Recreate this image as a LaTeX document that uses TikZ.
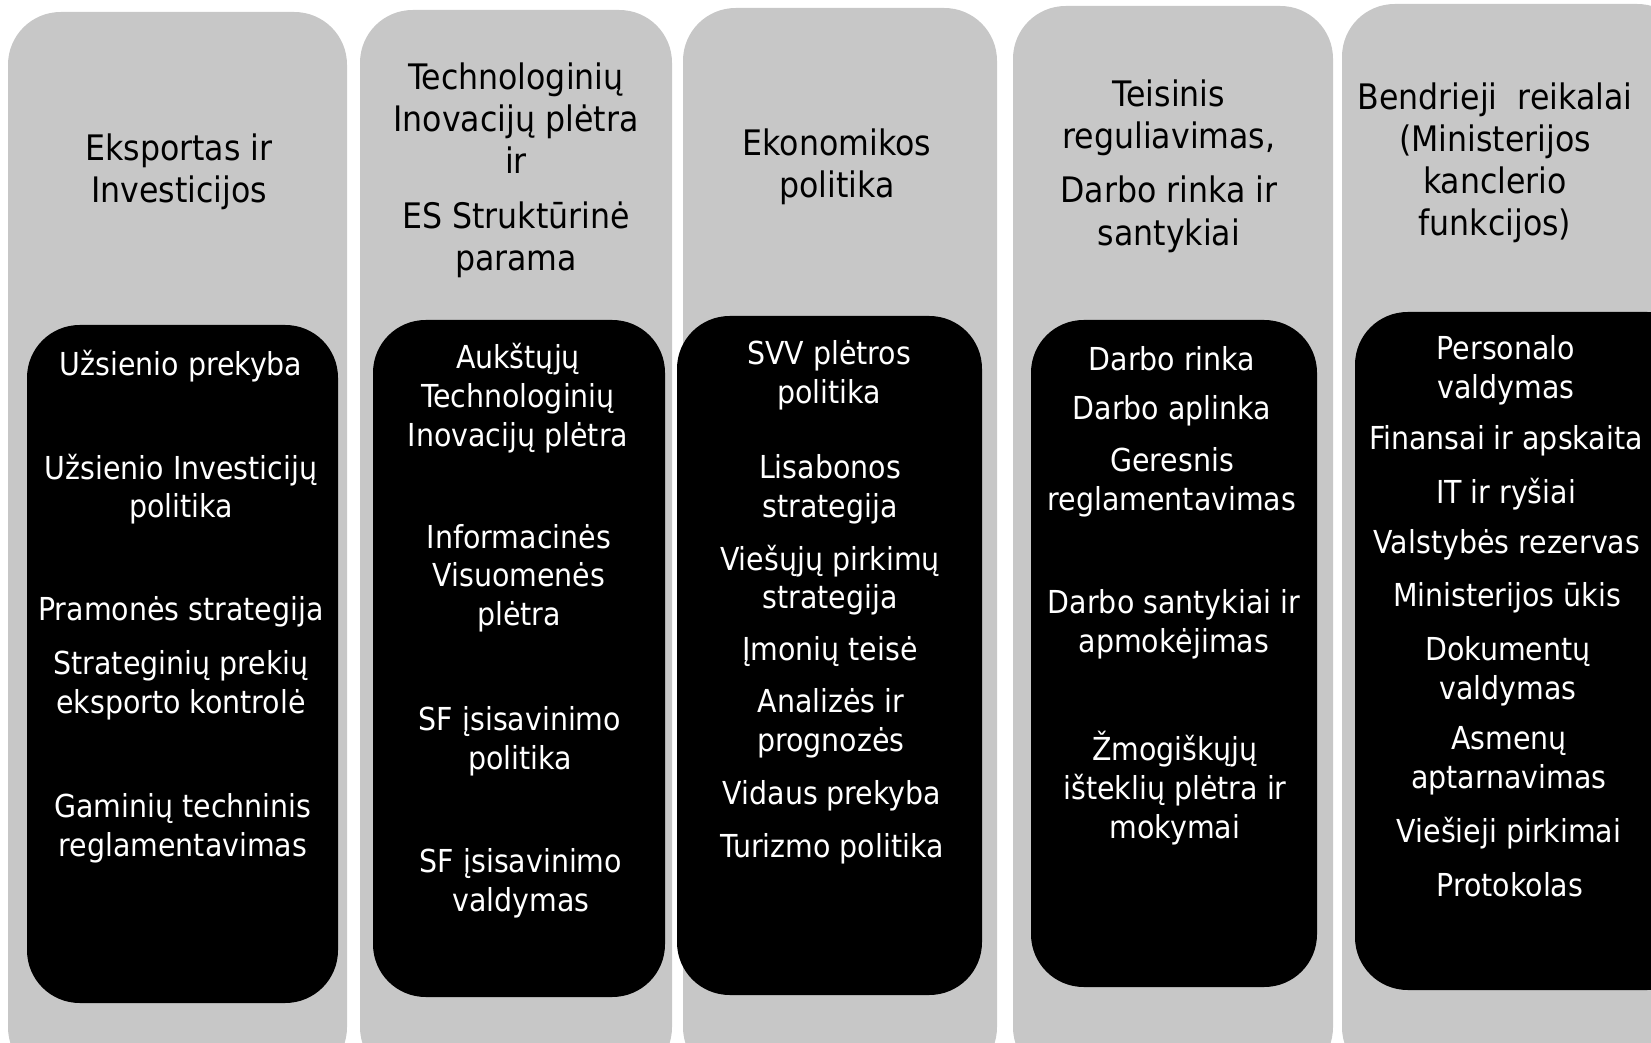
\documentclass[tikz,border=0pt]{standalone}
\usepackage{fontspec}
\setmainfont{DejaVu Sans Condensed}
\begin{document}
\begin{tikzpicture}[x=0.02cm,y=-0.02cm,line join=round]
        \tikzset{every node/.style={align=center,inner sep=0pt}}
        \tikzset{head/.style={font=\fontsize{20}{24}\selectfont,text=black}}
        \tikzset{item/.style={font=\fontsize{18}{22}\selectfont,text=white}}
        \useasboundingbox (0,0) rectangle (1651,1043);
        \clip (0,0) rectangle (1651,1043);
        % grey columns and black panels
        \foreach \xa/\ya/\xb in {8/12/347,360/10/672,683/8/997,1013/6/1333,1342/4/1690}
        \fill[black!22,rounded corners=30] (\xa,\ya) rectangle (\xb,1080);
        \foreach \xa/\ya/\xb/\yb in {27/325/338/1003,373/320/665/997,677/316/982/995,1031/320/1317/987,1355/312/1700/990}
        \fill[black,rounded corners=30] (\xa,\ya) rectangle (\xb,\yb);
        % headers
        \node[head] (h1) at (179,172) {Eksportas ir\\Investicijos};
        \node[head] (h2) at (516,170) {Technologinių\\Inovacijų plėtra\\ir\\[7pt]ES Struktūrinė\\parama};
        \node[head] (h3) at (837,167) {Ekonomikos\\politika};
        \node[head] (h4) at (1169,166) {Teisinis\\reguliavimas,\\[7pt]Darbo rinka ir\\santykiai};
        \node[head] (h5) at (1495,163) {Bendrieji\ \ reikalai\\(Ministerijos\\kanclerio\\funkcijos)};
        % column 1
        \node[item] (a1) at (181,366) {Užsienio prekyba};
        \node[item] (a2) at (181,489) {Užsienio Investicijų\\politika};
        \node[item] (a3) at (181,612) {Pramonės strategija};
        \node[item] (a4) at (181,685) {Strateginių prekių\\eksporto kontrolė};
        \node[item] (a5) at (183,828) {Gaminių techninis\\reglamentavimas};
        % column 2
        \node[item] (b1) at (518,398) {Aukštųjų\\Technologinių\\Inovacijų plėtra};
        \node[item] (b2) at (519,578) {Informacinės\\Visuomenės\\plėtra};
        \node[item] (b3) at (520,741) {SF įsisavinimo\\politika};
        \node[item] (b4) at (521,883) {SF įsisavinimo\\valdymas};
        % column 3
        \node[item] (c1) at (829,375) {SVV plėtros\\politika};
        \node[item] (c2) at (830,489) {Lisabonos\\strategija};
        \node[item] (c3) at (830,580) {Viešųjų pirkimų\\strategija};
        \node[item] (c4) at (830,652) {Įmonių teisė};
        \node[item] (c5) at (831,723) {Analizės ir\\prognozės};
        \node[item] (c6) at (832,796) {Vidaus prekyba};
        \node[item] (c7) at (832,849) {Turizmo politika};
        % column 4
        \node[item] (d1) at (1172,359) {Darbo rinka};
        \node[item] (d2) at (1172,411) {Darbo aplinka};
        \node[item] (d3) at (1172,482) {Geresnis\\reglamentavimas};
        \node[item] (d4) at (1174,624) {Darbo santykiai ir\\apmokėjimas};
        \node[item] (d5) at (1175,788) {Žmogiškųjų\\išteklių plėtra ir\\mokymai};
        % column 5
        \node[item] (e1) at (1506,370) {Personalo\\valdymas};
        \node[item] (e2) at (1506,441) {Finansai ir apskaita};
        \node[item] (e3) at (1506,494) {IT ir ryšiai};
        \node[item] (e4) at (1507,545) {Valstybės rezervas};
        \node[item] (e5) at (1507,598) {Ministerijos ūkis};
        \node[item] (e6) at (1508,671) {Dokumentų\\valdymas};
        \node[item] (e7) at (1509,761) {Asmenų\\aptarnavimas};
        \node[item] (e8) at (1509,833) {Viešieji pirkimai};
        \node[item] (e9) at (1510,885) {Protokolas};
\end{tikzpicture}
\end{document}
